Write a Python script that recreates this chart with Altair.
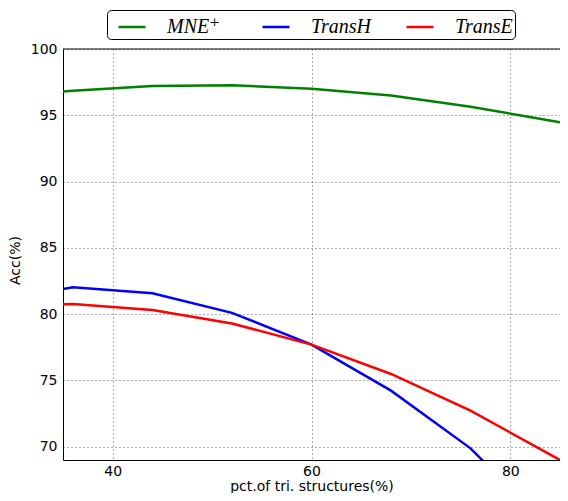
import altair as alt
import pandas as pd

x_vals = [35, 36, 44, 52, 60, 68, 76, 85]
mne_plus = [96.8, 96.85, 97.21, 97.26, 97.0, 96.5, 95.65, 94.47]
trans_h = [81.9, 82.03, 81.57, 80.1, 77.7, 74.23, 69.88, 63.1]
trans_e = [80.75, 80.77, 80.32, 79.3, 77.7, 75.49, 72.72, 69.0]
series_names = ["MNE⁺", "TransH", "TransE"]
series_colors = ["#008000", "#0000ff", "#ff0000"]
x_ticks = [40, 60, 80]
y_ticks = [70, 75, 80, 85, 90, 95, 100]
y_top = 100

rows = []
for name, vals in zip(series_names, [mne_plus, trans_h, trans_e]):
    for xv, yv in zip(x_vals, vals):
        rows.append({"x": xv, "y": yv, "series": name})
df = pd.DataFrame(rows)

font = "DejaVu Sans"

x_enc = alt.X("x:Q", scale=alt.Scale(domain=[35, 85], nice=False, zero=False),
              axis=alt.Axis(title="pct.of tri. structures(%)", values=x_ticks,
                            grid=True, ticks=False, labelPadding=4,
                            titleBaseline="alphabetic", titleY=30))
y_scale = alt.Scale(domain=[69, 100], nice=False, zero=False)

lines = alt.Chart(df).mark_line(strokeWidth=2.5, clip=True).encode(
    x=x_enc,
    y=alt.Y("y:Q", scale=y_scale,
            axis=alt.Axis(title="Acc(%)", values=y_ticks, grid=True, ticks=False,
                          labelPadding=6, titlePadding=8, titleY=211)),
    color=alt.Color("series:N",
                    scale=alt.Scale(domain=series_names, range=series_colors),
                    legend=alt.Legend(orient="none", legendX=44, legendY=-39,
                                      direction="horizontal", columns=3, title=None,
                                      symbolType="stroke", symbolSize=729,
                                      symbolStrokeWidth=2.5,
                                      labelFont="Liberation Serif, DejaVu Serif",
                                      labelFontStyle="italic", labelFontSize=20,
                                      labelColor="black",
                                      strokeColor="black", cornerRadius=4,
                                      fillColor="white", padding=2,
                                      symbolOffset=8,
                                      columnPadding=25, labelOffset=20,
                                      gridAlign="all")),
    detail="series:N",
)

top_spine = alt.Chart(pd.DataFrame({"y": [y_top]})).mark_rule(
    color="black", strokeWidth=1
).encode(y=alt.Y("y:Q", scale=y_scale))

chart = alt.layer(lines, top_spine).properties(
    width=497, height=411,
    autosize=alt.AutoSizeParams(type="none"),
    padding={"left": 55, "top": 41, "right": 0, "bottom": 33},
).configure_view(
    stroke=None
).configure_axis(
    labelFont=font, labelFontSize=14, labelColor="black",
    titleFont=font, titleFontSize=14, titleFontWeight="normal", titleColor="black",
    domainColor="black", domainWidth=1,
    gridColor="black", gridDash=[1, 3], gridWidth=0.8, gridOpacity=0.8,
)

chart.save("out.html", embed_options={"renderer": "svg", "actions": False})
